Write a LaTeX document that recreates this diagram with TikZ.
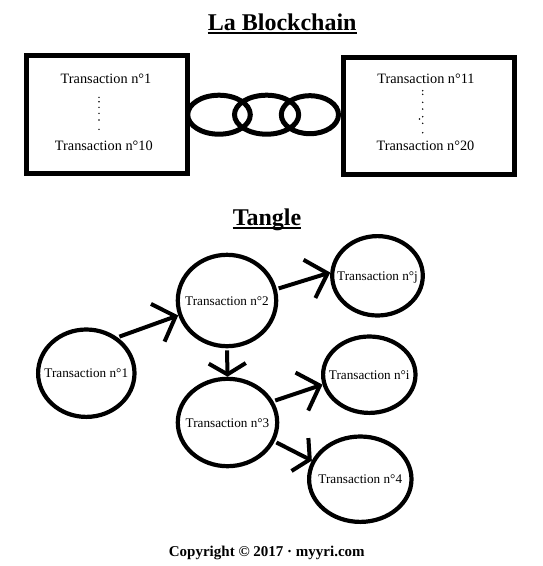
\documentclass[tikz,border=0pt]{standalone}
\usepackage{fontspec}
\setmainfont{Liberation Serif}
\usetikzlibrary{shapes.geometric,arrows.meta}

\tikzset{
  title/.style={anchor=base,inner sep=0pt,font=\fontsize{24}{28}\selectfont\bfseries},
  uline/.style={line width=2pt},
  block/.style={draw,line width=5.3pt,inner sep=0pt},
  ring/.style={line width=5pt},
  item/.style={anchor=base,inner sep=0pt,font=\fontsize{14.3}{17}\selectfont},
  tx/.style={draw,ellipse,line width=4.2pt,inner sep=0pt,text height=9pt,text depth=0pt,
    font=\fontsize{13.2}{16}\selectfont},
  link/.style={line width=4pt,shorten <=2pt,-{Straight Barb[length=19pt,width=40pt]}},
  stub/.style={link,-{Straight Barb[length=11pt,width=37pt]}},
  note/.style={anchor=base,inner sep=0pt,font=\fontsize{15}{18}\selectfont\bfseries}
}

\begin{document}
\begin{tikzpicture}[x=1pt,y=-1pt]
  \useasboundingbox (0,0) rectangle (543,566);

  % Blockchain
  \node[title] (ttlchain) at (282.2,30) {La Blockchain};
  \draw[uline] ([yshift=-3.3pt]ttlchain.base west) -- ([yshift=-3.3pt]ttlchain.base east);

  \node[block,minimum width=161pt,minimum height=118.3pt] (blk1) at (107.25,114.65) {};
  \node[block,minimum width=170.8pt,minimum height=117pt] (blk2) at (428.9,115.7) {};

  \draw[ring] (219,114.7) ellipse [x radius=31.3, y radius=19.5];
  \draw[ring] (266.6,114.7) ellipse [x radius=32.1, y radius=19.5];
  \draw[ring] (309.9,114.7) ellipse [x radius=28.6, y radius=19];

  \node[item] (tx1) at (106,83.3) {Transaction n°1};
  \node[item] (tx10) at (103.8,150.7) {Transaction n°10};
  \node[item] (tx11) at (426,83.3) {Transaction n°11};
  \node[item] (tx20) at (425.5,150) {Transaction n°20};

  \foreach \y in {97.3,101.7,107.3,113.3,120,129.3}
    \fill (99,\y) circle (0.8);
  \foreach \x/\y in {422.7/90.7,422.7/94.3,422.7/102.3,422.7/109,422.7/116.7,419.5/119,422.7/123.3,422.7/132.7}
    \fill (\x,\y) circle (0.8);

  % Tangle
  \node[title] (ttltangle) at (267,225) {Tangle};
  \draw[uline] ([yshift=-3pt]ttltangle.base west) -- ([yshift=-3pt]ttltangle.base east);

  \node[tx,minimum width=96.4pt,minimum height=87.4pt] (t1) at (86.3,373.2) {\makebox[0pt]{Transaction n°1}};
  \node[tx,minimum width=98.4pt,minimum height=91.4pt] (t2) at (227,300.5) {\makebox[0pt]{Transaction n°2}};
  \node[tx,minimum width=90.6pt,minimum height=79.4pt] (tj) at (377.5,275.8) {\makebox[0pt]{Transaction n°j}};
  \node[tx,minimum width=92.4pt,minimum height=76.4pt] (ti) at (369.3,374.7) {\makebox[0pt]{Transaction n°i}};
  \node[tx,minimum width=99.4pt,minimum height=87.4pt] (t3) at (227.5,422.5) {\makebox[0pt]{Transaction n°3}};
  \node[tx,minimum width=102.4pt,minimum height=85.4pt] (t4) at (360.3,479.2) {\makebox[0pt]{Transaction n°4}};

  \draw[link] (t1.49) -- (t2.197);
  \draw[link] (t2.13) -- (tj.176);
  \draw[stub] (t2.270) -- (t3.90);
  \draw[link] (t3.25) -- (ti.192);
  \draw[stub] (t3.338) -- (t4.159);

  \node[note] (copy) at (266.8,556.7) {Copyright © 2017 · myyri.com};
\end{tikzpicture}
\end{document}
